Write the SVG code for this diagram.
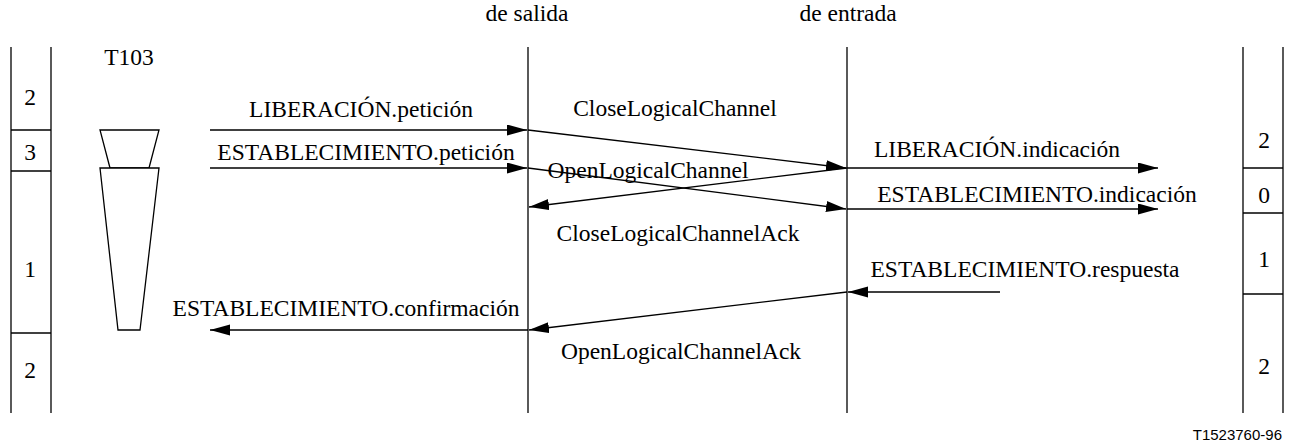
<svg xmlns="http://www.w3.org/2000/svg" width="1292" height="446" viewBox="0 0 1292 446">
<style>
.t{font-family:"Liberation Serif","Times New Roman",serif;font-size:23.5px;fill:#000}
.c{text-anchor:middle}
.s{font-family:"Liberation Sans",Arial,sans-serif;font-size:15px;fill:#000;text-anchor:end}
.ln{stroke:#000;stroke-width:1.3;fill:none}
.ar{stroke:#000;stroke-width:1.3;fill:none;marker-end:url(#ah)}
.sh{stroke:#000;stroke-width:1.3;fill:#fff}
</style>
<defs>
<marker id="ah" markerUnits="userSpaceOnUse" markerWidth="21" markerHeight="12" refX="20" refY="5.5" orient="auto">
<path d="M0,0 L20,5.5 L0,11 z" fill="#000"/>
</marker>
</defs>
<rect width="1292" height="446" fill="#fff"/>
<g id="left-states">
<line class="ln" x1="11" y1="47" x2="11" y2="413"/>
<line class="ln" x1="51" y1="47" x2="51" y2="413"/>
<line class="ln" x1="11" y1="130" x2="51" y2="130"/>
<line class="ln" x1="11" y1="171" x2="51" y2="171"/>
<line class="ln" x1="11" y1="333" x2="51" y2="333"/>
<text class="t c" x="30" y="105">2</text>
<text class="t c" x="30" y="160">3</text>
<text class="t c" x="30" y="277">1</text>
<text class="t c" x="30" y="378">2</text>
</g>
<g id="timer">
<text class="t c" x="129" y="65">T103</text>
<polygon class="sh" points="100,130 159,130 149,168 110,168"/>
<polygon class="sh" points="100,168 159,168 140,330 118,330"/>
</g>
<g id="lifeline-salida">
<text class="t c" x="527" y="21">de salida</text>
<line class="ln" x1="528" y1="47" x2="528" y2="413"/>
</g>
<g id="lifeline-entrada">
<text class="t c" x="848" y="21">de entrada</text>
<line class="ln" x1="847" y1="47" x2="847" y2="413"/>
</g>
<g id="right-states">
<line class="ln" x1="1243" y1="47" x2="1243" y2="413"/>
<line class="ln" x1="1283" y1="47" x2="1283" y2="413"/>
<line class="ln" x1="1243" y1="168" x2="1283" y2="168"/>
<line class="ln" x1="1243" y1="213" x2="1283" y2="213"/>
<line class="ln" x1="1243" y1="294" x2="1283" y2="294"/>
<text class="t c" x="1264" y="148">2</text>
<text class="t c" x="1264" y="203">0</text>
<text class="t c" x="1264" y="267">1</text>
<text class="t c" x="1264" y="374">2</text>
</g>
<g id="connectors">
<line class="ar" x1="210" y1="130" x2="527" y2="130"/>
<line class="ar" x1="210" y1="168" x2="527" y2="168"/>
<line class="ar" x1="528" y1="130" x2="846" y2="168"/>
<line class="ar" x1="528" y1="168" x2="846" y2="209"/>
<line class="ar" x1="847" y1="168" x2="529" y2="207"/>
<line class="ar" x1="847" y1="168" x2="1158" y2="168"/>
<line class="ar" x1="847" y1="209" x2="1158" y2="209"/>
<line class="ar" x1="1000" y1="292" x2="848" y2="292"/>
<line class="ar" x1="847" y1="292" x2="529" y2="330"/>
<line class="ar" x1="528" y1="330" x2="210" y2="330"/>
</g>
<g id="labels">
<text class="t c" x="361" y="117">LIBERACIÓN.petición</text>
<text class="t c" x="366" y="160">ESTABLECIMIENTO.petición</text>
<text class="t c" x="675" y="116">CloseLogicalChannel</text>
<text class="t c" x="648" y="178">OpenLogicalChannel</text>
<text class="t c" x="678" y="241">CloseLogicalChannelAck</text>
<text class="t c" x="997" y="157">LIBERACIÓN.indicación</text>
<text class="t c" x="1037" y="202">ESTABLECIMIENTO.indicación</text>
<text class="t c" x="1025" y="277">ESTABLECIMIENTO.respuesta</text>
<text class="t c" x="346" y="316">ESTABLECIMIENTO.confirmación</text>
<text class="t c" x="681" y="359">OpenLogicalChannelAck</text>
<text class="s" x="1282" y="440">T1523760-96</text>
</g>
</svg>
